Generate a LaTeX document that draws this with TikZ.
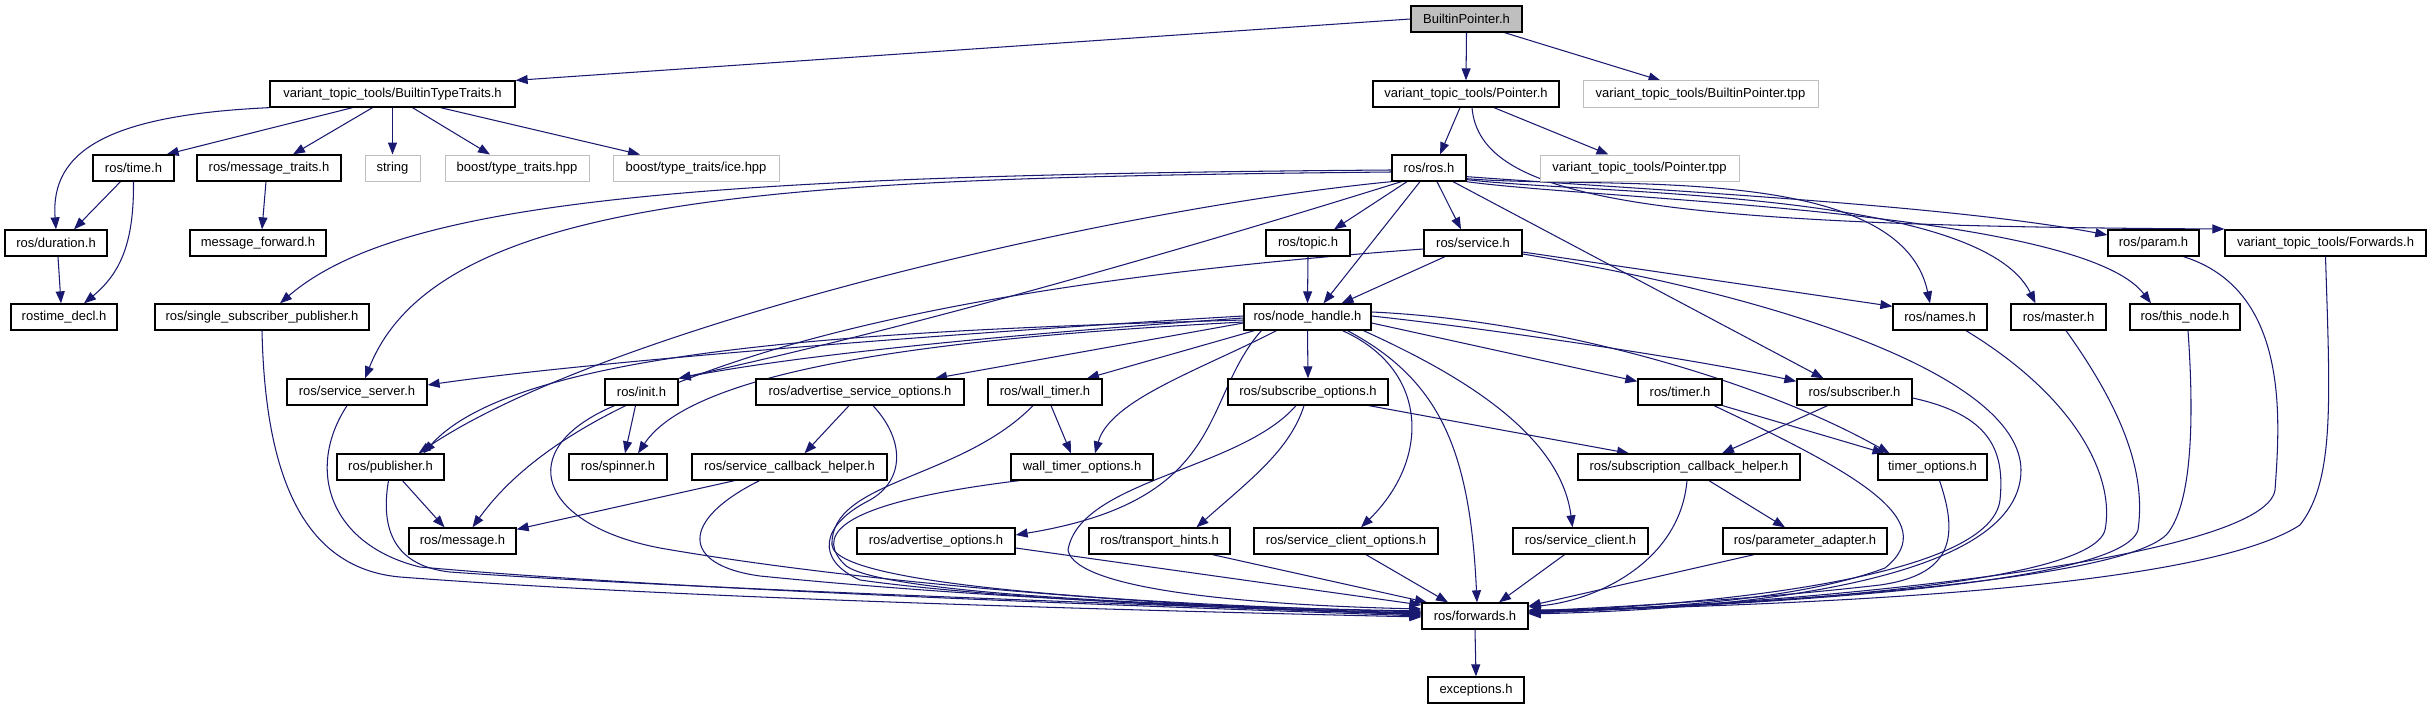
\documentclass[tikz,border=0pt]{standalone}
\usepackage{fontspec}
\setmainfont{Liberation Sans}
\usetikzlibrary{arrows.meta}
\definecolor{edgec}{HTML}{191970}
\definecolor{extc}{HTML}{BFBFBF}
\pgfdeclarelayer{bg}
\pgfsetlayers{bg,main}
\begin{document}
\begin{tikzpicture}[x=1pt,y=-1pt,
  hb/.style={draw=black, line width=1.3pt, fill=white, minimum height=26pt, inner sep=0pt, font=\fontsize{13}{15}\selectfont},
  xb/.style={hb, draw=extc, line width=1pt},
  cur/.style={hb, fill=extc},
  e/.style={draw=edgec, line width=1.05pt, -{Triangle[length=12pt,width=9pt]}}]
\useasboundingbox (0,0) rectangle (2431,709);
% row 0
\node[cur, minimum width=111pt] (bp) at (1466.5,19) {BuiltinPointer.h};
% row 1
\node[hb, minimum width=245pt] (btt) at (392.5,94) {variant\_topic\_tools/BuiltinTypeTraits.h};
\node[hb, minimum width=186pt] (ptr) at (1466,94) {variant\_topic\_tools/Pointer.h};
\node[xb, minimum width=235pt] (bptpp) at (1700.5,94) {variant\_topic\_tools/BuiltinPointer.tpp};
% row 2
\node[hb, minimum width=81pt] (time) at (133.5,168) {ros/time.h};
\node[hb, minimum width=144pt] (mtraits) at (269,168) {ros/message\_traits.h};
\node[xb, minimum width=55pt] (string) at (392.5,168) {string};
\node[xb, minimum width=144pt] (boosttt) at (517,168) {boost/type\_traits.hpp};
\node[xb, minimum width=166pt] (boostice) at (696,168) {boost/type\_traits/ice.hpp};
\node[hb, minimum width=74pt] (ros) at (1429,168) {ros/ros.h};
\node[xb, minimum width=199pt] (ptpp) at (1639.5,168) {variant\_topic\_tools/Pointer.tpp};
% row 3
\node[hb, minimum width=102pt] (duration) at (56,243) {ros/duration.h};
\node[hb, minimum width=136pt] (mfwd) at (258,243) {message\_forward.h};
\node[hb, minimum width=84pt] (topic) at (1308,243) {ros/topic.h};
\node[hb, minimum width=98pt] (service) at (1473,243) {ros/service.h};
\node[hb, minimum width=91pt] (param) at (2153.5,243) {ros/param.h};
\node[hb, minimum width=201pt] (vfwd) at (2325.5,243) {variant\_topic\_tools/Forwards.h};
% row 4
\node[hb, minimum width=106pt] (rdecl) at (64,317) {rostime\_decl.h};
\node[hb, minimum width=214pt] (ssp) at (262,317) {ros/single\_subscriber\_publisher.h};
\node[hb, minimum width=127pt] (nh) at (1307.5,317) {ros/node\_handle.h};
\node[hb, minimum width=94pt] (names) at (1940,317) {ros/names.h};
\node[hb, minimum width=95pt] (master) at (2058.5,317) {ros/master.h};
\node[hb, minimum width=110pt] (thisnode) at (2185,317) {ros/this\_node.h};
% row 5
\node[hb, minimum width=140pt] (ssrv) at (357,392) {ros/service\_server.h};
\node[hb, minimum width=73pt] (init) at (641.5,392) {ros/init.h};
\node[hb, minimum width=208pt] (aso) at (860,392) {ros/advertise\_service\_options.h};
\node[hb, minimum width=114pt] (wt) at (1045,392) {ros/wall\_timer.h};
\node[hb, minimum width=160pt] (subo) at (1308,392) {ros/subscribe\_options.h};
\node[hb, minimum width=84pt] (timer) at (1680,392) {ros/timer.h};
\node[hb, minimum width=115pt] (sub) at (1854.5,392) {ros/subscriber.h};
% row 6
\node[hb, minimum width=107pt] (pub) at (390.5,467) {ros/publisher.h};
\node[hb, minimum width=98pt] (spinner) at (618,467) {ros/spinner.h};
\node[hb, minimum width=195pt] (sch) at (789.5,467) {ros/service\_callback\_helper.h};
\node[hb, minimum width=142pt] (wto) at (1082,467) {wall\_timer\_options.h};
\node[hb, minimum width=222pt] (scbh) at (1689,467) {ros/subscription\_callback\_helper.h};
\node[hb, minimum width=109pt] (tmo) at (1932.5,467) {timer\_options.h};
% row 7
\node[hb, minimum width=107pt] (msg) at (462.5,541) {ros/message.h};
\node[hb, minimum width=158pt] (ao) at (936,541) {ros/advertise\_options.h};
\node[hb, minimum width=141pt] (th) at (1159.5,541) {ros/transport\_hints.h};
\node[hb, minimum width=184pt] (sco) at (1346,541) {ros/service\_client\_options.h};
\node[hb, minimum width=135pt] (sc) at (1580.5,541) {ros/service\_client.h};
\node[hb, minimum width=164pt] (pa) at (1805,541) {ros/parameter\_adapter.h};
% row 8, 9
\node[hb, minimum width=106pt] (fwd) at (1475,616) {ros/forwards.h};
\node[hb, minimum width=96pt] (exc) at (1476,690) {exceptions.h};

\begin{pgfonlayer}{bg}
% top
\draw[e] (bp.west) -- (btt.north east);
\draw[e] (bp.south) -- (ptr.north);
\draw[e] ([xshift=38pt]bp.south) -- ([xshift=-40pt]bptpp.north);
% BuiltinTypeTraits
\draw[e] (btt.south west) .. controls (110,115) and (50,150) .. (duration.north);
\draw[e] ([xshift=-40pt]btt.south) -- ([xshift=-8pt]time.north east);
\draw[e] ([xshift=-20pt]btt.south) -- ([xshift=24pt]mtraits.north);
\draw[e] (btt.south) -- (string.north);
\draw[e] ([xshift=20pt]btt.south) -- ([xshift=-27pt]boosttt.north);
\draw[e] ([xshift=48pt]btt.south) -- ([xshift=-56pt]boostice.north);
% Pointer.h
\draw[e] ([xshift=-6pt]ptr.south) -- ([xshift=11pt]ros.north);
\draw[e] ([xshift=28pt]ptr.south) -- ([xshift=-31pt]ptpp.north);
\draw[e] ([xshift=6pt]ptr.south) .. controls (1480,200) and (1650,226) .. ([yshift=14pt]vfwd.west);
% time etc
\draw[e] ([xshift=-13pt]time.south) -- ([xshift=18pt]duration.north);
\draw[e] (time.south) .. controls (134,240) and (122,272) .. ([xshift=20pt]rdecl.north);
\draw[e] ([xshift=2pt]duration.south) -- ([xshift=-3pt]rdecl.north);
\draw[e] ([xshift=-3pt]mtraits.south) -- ([xshift=4pt]mfwd.north);
% ros.h
\draw[e] ([yshift=-2pt]ros.west) .. controls (700,175) and (400,200) .. ([xshift=18pt]ssp.north);
\draw[e] ([yshift=-4pt]ros.west) .. controls (800,178) and (440,190) .. ([xshift=8pt]ssrv.north);
\draw[e] (ros.south west) .. controls (1100,210) and (600,330) .. ([xshift=28pt]pub.north);
\draw[e] ([xshift=10pt]ros.south west) .. controls (1150,260) and (900,330) .. (init.north east);
\draw[e] ([xshift=-22pt]ros.south) -- ([xshift=26pt]topic.north);
\draw[e] ([xshift=-9pt]ros.south) -- ([xshift=16pt]nh.north);
\draw[e] ([xshift=8pt]ros.south) -- ([xshift=-12pt]service.north);
\draw[e] ([xshift=24pt]ros.south) -- ([xshift=-31pt]sub.north);
\draw[e] ([yshift=3pt]ros.south east) .. controls (1600,190) and (1900,160) .. ([xshift=-10pt]names.north);
\draw[e] ([yshift=2pt]ros.south east) .. controls (1600,195) and (1980,190) .. ([xshift=-23pt]master.north);
\draw[e] (ros.south east) .. controls (1600,200) and (2080,210) .. ([xshift=-34pt]thisnode.north);
\draw[e] ([yshift=5pt]ros.south east) .. controls (1650,190) and (1950,205) .. ([yshift=8pt]param.west);
% topic, service
\draw[e] (topic.south) -- (nh.north);
\draw[e] ([xshift=-28pt]service.south) -- ([xshift=34pt]nh.north);
\draw[e] ([yshift=-6pt]service.west) .. controls (1000,280) and (600,350) .. ([xshift=10pt]msg.north);
\draw[e] ([yshift=-9pt]service.east) -- ([yshift=-3pt]names.north west);
\draw[e] ([yshift=-11pt]service.east) .. controls (1800,300) and (2020,380) .. (2021,470)
   .. controls (2021,590) and (1700,610) .. ([yshift=2pt]fwd.east);
% node_handle
\draw[e] ([yshift=1pt]nh.west) .. controls (1000,330) and (600,360) .. ([yshift=7pt]ssrv.east);
\draw[e] ([yshift=-1pt]nh.west) .. controls (1000,335) and (800,355) .. (init.north east);
\draw[e] ([yshift=-3pt]nh.west) .. controls (900,330) and (520,345) .. ([xshift=33pt]pub.north);
\draw[e] ([yshift=-5pt]nh.west) .. controls (1000,335) and (700,360) .. ([xshift=20pt]spinner.north);
\draw[e] ([yshift=-6pt]nh.west) -- ([xshift=75pt]aso.north);
\draw[e] ([xshift=11pt]nh.south west) -- ([xshift=42pt]wt.north);
\draw[e] ([xshift=33pt]nh.south west) .. controls (1200,370) and (1110,400) .. ([xshift=13pt]wto.north);
\draw[e] ([xshift=18pt]nh.south west) .. controls (1200,400) and (1230,500) .. ([yshift=6pt]ao.east);
\draw[e] (nh.south) -- (subo.north);
\draw[e] ([xshift=35pt]nh.south) .. controls (1430,370) and (1430,460) .. ([xshift=15pt]sco.north);
\draw[e] ([xshift=40pt]nh.south) .. controls (1440,380) and (1470,450) .. ([xshift=2pt]fwd.north);
\draw[e] ([xshift=56pt]nh.south) .. controls (1450,370) and (1560,430) .. ([xshift=-8pt]sc.north);
\draw[e] ([yshift=-6pt]nh.east) -- ([yshift=-3pt]timer.north west);
\draw[e] ([yshift=1pt]nh.east) .. controls (1500,330) and (1700,360) .. ([yshift=-3pt]sub.north west);
\draw[e] ([yshift=5pt]nh.east) .. controls (1550,320) and (1760,380) .. ([xshift=-43pt]tmo.north);
% middle rows
\draw[e] ([xshift=-6pt]init.south) -- ([xshift=7pt]spinner.north);
\draw[e] ([xshift=-11pt]aso.south) -- ([xshift=15pt]sch.north);
\draw[e] ([xshift=6pt]wt.south) -- ([xshift=-11pt]wto.north);
\draw[e] (timer.south east) -- ([xshift=-48pt]tmo.north);
\draw[e] ([xshift=-27pt]sub.south) -- ([xshift=33pt]scbh.north);
\draw[e] ([xshift=61pt]subo.south) -- ([xshift=-60pt]scbh.north);
\draw[e] ([xshift=-4pt]subo.south) .. controls (1290,450) and (1250,480) .. ([xshift=37pt]th.north);
\draw[e] ([xshift=20pt]scbh.south) -- ([xshift=-20pt]pa.north);
\draw[e] ([xshift=12pt]pub.south) -- ([xshift=-18pt]msg.north);
\draw[e] ([xshift=-55pt]sch.south) -- ([yshift=-2pt]msg.north east);
% into forwards from the left
\draw[e] (ssp.south) .. controls (265,470) and (300,568) .. (400,577)
   .. controls (700,600) and (1200,612) .. ([yshift=-1pt]fwd.west);
\draw[e] ([xshift=-10pt]ssrv.south) .. controls (305,470) and (330,545) .. (420,567)
   .. controls (700,592) and (1200,608) .. ([yshift=0pt]fwd.west);
\draw[e] ([xshift=-2pt]pub.south) .. controls (380,530) and (395,566) .. (450,572)
   .. controls (700,590) and (1200,606) .. ([yshift=1pt]fwd.west);
\draw[e] ([xshift=-27pt]init.south) .. controls (510,450) and (540,525) .. (660,548)
   .. controls (900,590) and (1250,610) .. ([yshift=2pt]fwd.west);
\draw[e] ([xshift=-30pt]sch.south) .. controls (680,520) and (680,565) .. (760,576)
   .. controls (1000,600) and (1250,608) .. ([yshift=3pt]fwd.west);
\draw[e] ([xshift=13pt]aso.south) .. controls (905,440) and (905,480) .. (870,500)
   .. controls (820,525) and (815,560) .. (860,580)
   .. controls (1000,600) and (1300,612) .. ([yshift=3pt]fwd.west);
\draw[e] ([xshift=-12pt]wt.south) .. controls (960,480) and (830,480) .. (832,545)
   .. controls (835,590) and (1200,606) .. ([yshift=4pt]fwd.west);
\draw[e] ([xshift=-63pt]wto.south) .. controls (820,505) and (820,540) .. (845,565)
   .. controls (880,595) and (1200,607) .. ([yshift=5pt]fwd.west);
\draw[e] ([xshift=-12pt]subo.south) .. controls (1240,470) and (1080,480) .. (1068,550)
   .. controls (1075,590) and (1250,605) .. ([yshift=7pt]fwd.west);
\draw[e] ([yshift=-7pt]ao.east) -- ([yshift=11pt]fwd.west);
\draw[e] ([xshift=53pt]th.south) -- ([xshift=-48pt]fwd.north);
\draw[e] ([xshift=20pt]sco.south) -- ([xshift=-27pt]fwd.north);
\draw[e] ([xshift=-16pt]sc.south) -- ([xshift=24pt]fwd.north);
% into forwards from the right
\draw[e] ([xshift=26pt]names.south) .. controls (2080,400) and (2115,480) .. (2105,530)
   .. controls (2090,590) and (1700,606) .. ([yshift=3pt]fwd.east);
\draw[e] ([xshift=7.5pt]master.south) .. controls (2130,420) and (2145,480) .. (2138,530)
   .. controls (2120,590) and (1700,606) .. ([yshift=3pt]fwd.east);
\draw[e] ([xshift=3pt]thisnode.south) .. controls (2195,430) and (2190,500) .. (2170,530)
   .. controls (2140,585) and (1700,606) .. ([yshift=3pt]fwd.east);
\draw[e] ([xshift=30pt]param.south) .. controls (2290,290) and (2280,420) .. (2275,490)
   .. controls (2265,560) and (1800,605) .. ([yshift=4pt]fwd.east);
\draw[e] (vfwd.south) .. controls (2330,400) and (2335,480) .. (2300,525)
   .. controls (2200,590) and (1800,605) .. ([yshift=5pt]fwd.east);
\draw[e] ([xshift=34pt]timer.south) .. controls (1850,470) and (1945,520) .. (1885,568)
   .. controls (1800,600) and (1650,610) .. ([yshift=6pt]fwd.east);
\draw[e] ([xshift=7pt]tmo.south) .. controls (1960,540) and (1950,575) .. (1880,585)
   .. controls (1750,600) and (1600,608) .. ([yshift=5pt]fwd.east);
\draw[e] ([yshift=-6pt]sub.east) .. controls (1990,415) and (2005,450) .. (2000,500)
   .. controls (1990,580) and (1700,605) .. ([yshift=4pt]fwd.east);
\draw[e] ([xshift=-2pt]scbh.south) .. controls (1680,560) and (1600,600) .. ([yshift=9pt]fwd.east);
\draw[e] ([xshift=-51pt]pa.south) -- ([yshift=10pt]fwd.east);
% bottom
\draw[e] (fwd.south) -- (exc.north);
\end{pgfonlayer}
\end{tikzpicture}
\end{document}
